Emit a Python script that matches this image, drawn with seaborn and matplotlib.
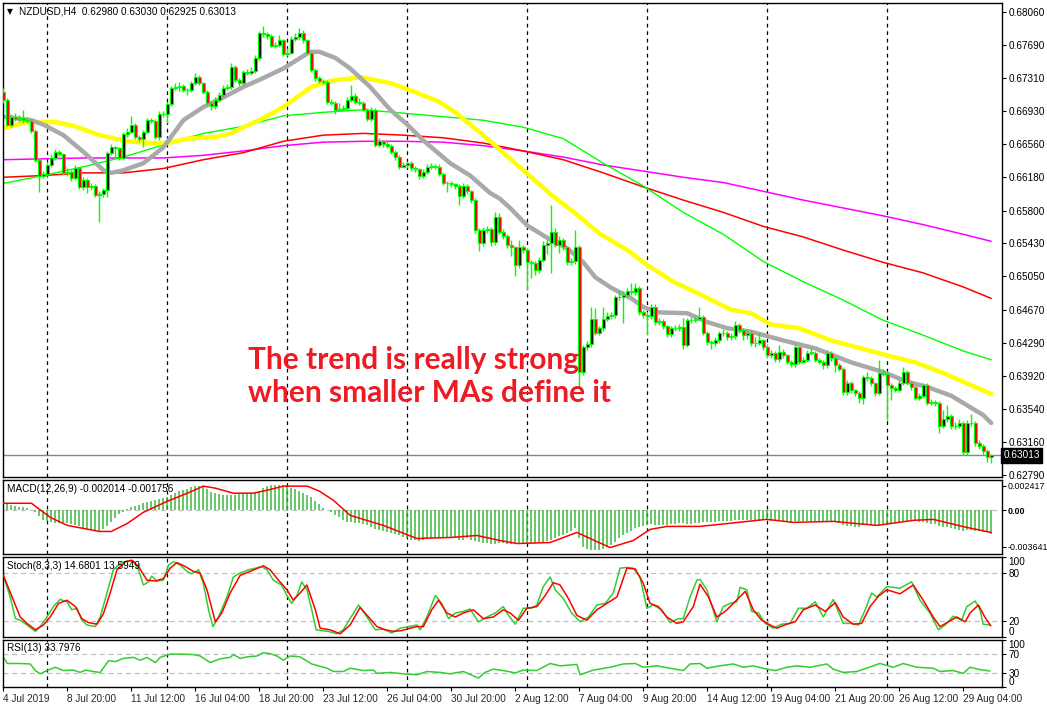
import numpy as np
import matplotlib
matplotlib.use('Agg')
import matplotlib.pyplot as plt
import seaborn as sns

# NZDUSD H4, 4 Jul - 30 Aug 2019
first_open = 0.6715
close = [
    0.6706, 0.6678, 0.6687, 0.6684, 0.6685, 0.6683, 0.6682, 0.6671, 0.6638, 0.6619,
    0.6622, 0.6632, 0.6640, 0.6647, 0.6644, 0.6623, 0.6624, 0.6617, 0.6628, 0.6607,
    0.6615, 0.6607, 0.6608, 0.6598, 0.6599, 0.6603, 0.6646, 0.6652, 0.6651, 0.6640,
    0.6667, 0.6670, 0.6678, 0.6664, 0.6662, 0.6670, 0.6683, 0.6682, 0.6664, 0.6690,
    0.6690, 0.6701, 0.6720, 0.6721, 0.6722, 0.6717, 0.6717, 0.6725, 0.6732, 0.6725,
    0.6715, 0.6703, 0.6699, 0.6706, 0.6712, 0.6720, 0.6721, 0.6744, 0.6729, 0.6725,
    0.6738, 0.6737, 0.6739, 0.6754, 0.6782, 0.6781, 0.6779, 0.6768, 0.6769, 0.6774,
    0.6758, 0.6760, 0.6776, 0.6778, 0.6782, 0.6774, 0.6760, 0.6740, 0.6731, 0.6728,
    0.6727, 0.6704, 0.6703, 0.6695, 0.6696, 0.6697, 0.6706, 0.6711, 0.6704, 0.6703,
    0.6695, 0.6684, 0.6695, 0.6655, 0.6659, 0.6656, 0.6654, 0.6647, 0.6641, 0.6630,
    0.6632, 0.6634, 0.6628, 0.6627, 0.6619, 0.6624, 0.6630, 0.6630, 0.6630, 0.6622,
    0.6611, 0.6611, 0.6610, 0.6608, 0.6597, 0.6608, 0.6602, 0.6592, 0.6558, 0.6543,
    0.6558, 0.6559, 0.6544, 0.6573, 0.6556, 0.6551, 0.6541, 0.6538, 0.6518, 0.6538,
    0.6535, 0.6521, 0.6520, 0.6512, 0.6524, 0.6541, 0.6543, 0.6556, 0.6541, 0.6546,
    0.6538, 0.6521, 0.6522, 0.6538, 0.6396, 0.6424, 0.6428, 0.6457, 0.6441, 0.6446,
    0.6457, 0.6460, 0.6461, 0.6481, 0.6481, 0.6484, 0.6488, 0.6487, 0.6492, 0.6464,
    0.6461, 0.6460, 0.6470, 0.6453, 0.6454, 0.6448, 0.6439, 0.6446, 0.6446, 0.6447,
    0.6427, 0.6455, 0.6455, 0.6457, 0.6459, 0.6441, 0.6430, 0.6429, 0.6432, 0.6440,
    0.6441, 0.6436, 0.6437, 0.6450, 0.6444, 0.6438, 0.6441, 0.6429, 0.6429, 0.6432,
    0.6424, 0.6415, 0.6418, 0.6411, 0.6419, 0.6415, 0.6408, 0.6405, 0.6424, 0.6408,
    0.6410, 0.6418, 0.6418, 0.6410, 0.6408, 0.6404, 0.6418, 0.6412, 0.6404, 0.6400,
    0.6373, 0.6384, 0.6375, 0.6372, 0.6366, 0.6390, 0.6389, 0.6383, 0.6372, 0.6395,
    0.6394, 0.6381, 0.6378, 0.6376, 0.6384, 0.6396, 0.6384, 0.6379, 0.6367, 0.6369,
    0.6381, 0.6361, 0.6362, 0.6361, 0.6335, 0.6342, 0.6346, 0.6334, 0.6335, 0.6338,
    0.6305, 0.6338, 0.6338, 0.6315, 0.6312, 0.6306, 0.6299, 0.6301]
high = [
    0.6720, 0.6708, 0.6690, 0.6691, 0.6689, 0.6695, 0.6687, 0.6684, 0.6673, 0.6640,
    0.6625, 0.6635, 0.6644, 0.6650, 0.6649, 0.6646, 0.6628, 0.6626, 0.6632, 0.6630,
    0.6618, 0.6617, 0.6611, 0.6610, 0.6602, 0.6606, 0.6648, 0.6656, 0.6654, 0.6653,
    0.6670, 0.6674, 0.6688, 0.6680, 0.6666, 0.6672, 0.6686, 0.6686, 0.6684, 0.6693,
    0.6694, 0.6704, 0.6722, 0.6725, 0.6727, 0.6724, 0.6720, 0.6728, 0.6737, 0.6735,
    0.6727, 0.6717, 0.6705, 0.6709, 0.6715, 0.6723, 0.6724, 0.6748, 0.6746, 0.6731,
    0.6740, 0.6741, 0.6744, 0.6757, 0.6785, 0.6790, 0.6784, 0.6781, 0.6772, 0.6780,
    0.6776, 0.6765, 0.6779, 0.6782, 0.6788, 0.6786, 0.6776, 0.6762, 0.6742, 0.6733,
    0.6730, 0.6729, 0.6707, 0.6705, 0.6703, 0.6700, 0.6709, 0.6723, 0.6714, 0.6708,
    0.6705, 0.6697, 0.6698, 0.6697, 0.6663, 0.6661, 0.6659, 0.6656, 0.6649, 0.6643,
    0.6635, 0.6637, 0.6636, 0.6631, 0.6629, 0.6627, 0.6633, 0.6634, 0.6633, 0.6633,
    0.6624, 0.6614, 0.6614, 0.6612, 0.6610, 0.6611, 0.6610, 0.6604, 0.6594, 0.6560,
    0.6561, 0.6562, 0.6561, 0.6578, 0.6577, 0.6559, 0.6553, 0.6547, 0.6540, 0.6547,
    0.6541, 0.6537, 0.6524, 0.6523, 0.6527, 0.6545, 0.6548, 0.6586, 0.6560, 0.6551,
    0.6549, 0.6540, 0.6526, 0.6558, 0.6541, 0.6427, 0.6431, 0.6470, 0.6469, 0.6449,
    0.6470, 0.6464, 0.6465, 0.6484, 0.6489, 0.6488, 0.6492, 0.6497, 0.6497, 0.6494,
    0.6467, 0.6464, 0.6474, 0.6473, 0.6458, 0.6456, 0.6450, 0.6449, 0.6450, 0.6451,
    0.6458, 0.6458, 0.6459, 0.6461, 0.6470, 0.6461, 0.6443, 0.6433, 0.6436, 0.6443,
    0.6445, 0.6443, 0.6441, 0.6454, 0.6452, 0.6446, 0.6445, 0.6444, 0.6436, 0.6440,
    0.6434, 0.6428, 0.6421, 0.6420, 0.6427, 0.6422, 0.6417, 0.6410, 0.6428, 0.6426,
    0.6413, 0.6421, 0.6424, 0.6420, 0.6412, 0.6410, 0.6421, 0.6420, 0.6414, 0.6406,
    0.6402, 0.6387, 0.6386, 0.6377, 0.6374, 0.6393, 0.6396, 0.6391, 0.6385, 0.6410,
    0.6399, 0.6396, 0.6383, 0.6380, 0.6387, 0.6402, 0.6398, 0.6386, 0.6381, 0.6372,
    0.6384, 0.6383, 0.6365, 0.6364, 0.6363, 0.6353, 0.6358, 0.6348, 0.6339, 0.6342,
    0.6340, 0.6341, 0.6348, 0.6340, 0.6318, 0.6314, 0.6308, 0.6303]
low = [
    0.6703, 0.6676, 0.6675, 0.6682, 0.6681, 0.6680, 0.6680, 0.6669, 0.6635, 0.6601,
    0.6617, 0.6620, 0.6630, 0.6638, 0.6642, 0.6621, 0.6620, 0.6614, 0.6615, 0.6605,
    0.6604, 0.6600, 0.6603, 0.6596, 0.6567, 0.6595, 0.6596, 0.6643, 0.6640, 0.6638,
    0.6638, 0.6664, 0.6668, 0.6662, 0.6658, 0.6652, 0.6668, 0.6680, 0.6662, 0.6661,
    0.6687, 0.6680, 0.6699, 0.6717, 0.6716, 0.6715, 0.6712, 0.6715, 0.6723, 0.6723,
    0.6713, 0.6700, 0.6695, 0.6696, 0.6704, 0.6710, 0.6717, 0.6719, 0.6727, 0.6722,
    0.6723, 0.6734, 0.6735, 0.6737, 0.6752, 0.6778, 0.6776, 0.6766, 0.6765, 0.6767,
    0.6756, 0.6756, 0.6758, 0.6773, 0.6775, 0.6771, 0.6758, 0.6738, 0.6728, 0.6725,
    0.6724, 0.6702, 0.6700, 0.6690, 0.6693, 0.6693, 0.6694, 0.6704, 0.6702, 0.6700,
    0.6693, 0.6682, 0.6682, 0.6652, 0.6652, 0.6653, 0.6651, 0.6644, 0.6638, 0.6627,
    0.6628, 0.6629, 0.6625, 0.6624, 0.6616, 0.6617, 0.6622, 0.6627, 0.6627, 0.6620,
    0.6609, 0.6601, 0.6607, 0.6605, 0.6586, 0.6594, 0.6599, 0.6589, 0.6555, 0.6534,
    0.6540, 0.6555, 0.6540, 0.6541, 0.6553, 0.6548, 0.6537, 0.6528, 0.6505, 0.6515,
    0.6532, 0.6490, 0.6503, 0.6507, 0.6509, 0.6521, 0.6530, 0.6509, 0.6538, 0.6532,
    0.6535, 0.6518, 0.6518, 0.6519, 0.6378, 0.6393, 0.6421, 0.6425, 0.6438, 0.6438,
    0.6443, 0.6454, 0.6457, 0.6458, 0.6478, 0.6452, 0.6481, 0.6484, 0.6484, 0.6461,
    0.6458, 0.6438, 0.6457, 0.6450, 0.6450, 0.6445, 0.6436, 0.6436, 0.6443, 0.6443,
    0.6422, 0.6424, 0.6452, 0.6453, 0.6455, 0.6438, 0.6427, 0.6422, 0.6426, 0.6429,
    0.6437, 0.6433, 0.6432, 0.6434, 0.6441, 0.6433, 0.6434, 0.6426, 0.6425, 0.6427,
    0.6421, 0.6412, 0.6412, 0.6408, 0.6408, 0.6412, 0.6405, 0.6402, 0.6402, 0.6405,
    0.6406, 0.6407, 0.6415, 0.6407, 0.6405, 0.6400, 0.6401, 0.6409, 0.6396, 0.6397,
    0.6370, 0.6370, 0.6372, 0.6369, 0.6361, 0.6360, 0.6386, 0.6380, 0.6369, 0.6370,
    0.6391, 0.6341, 0.6364, 0.6373, 0.6373, 0.6381, 0.6381, 0.6376, 0.6364, 0.6364,
    0.6366, 0.6358, 0.6358, 0.6357, 0.6326, 0.6332, 0.6339, 0.6331, 0.6331, 0.6332,
    0.6302, 0.6302, 0.6335, 0.6312, 0.6308, 0.6302, 0.6293, 0.6292]

# fast moving averages: (bar, price)
ma_gray = [
    (0, 0.6687), (7, 0.6683), (10, 0.6678), (15, 0.6666), (20, 0.6647), (25, 0.6626),
    (27, 0.6623), (30, 0.6626), (35, 0.6634), (40, 0.6652), (45, 0.6683), (50, 0.6698),
    (55, 0.6709), (60, 0.6721), (64, 0.6729), (70, 0.6742), (76.7, 0.6761), (79, 0.6761),
    (83, 0.6754), (86.7, 0.6742), (91.7, 0.6721), (96.7, 0.6695), (101, 0.6678),
    (105, 0.6660), (111.7, 0.6634), (116.7, 0.6620), (121.7, 0.6600), (124, 0.6594),
    (126.7, 0.6583), (131, 0.6563), (136, 0.6549), (141, 0.6537), (145, 0.6521),
    (148, 0.6504), (152, 0.6492), (157, 0.6480), (160, 0.6470), (164, 0.6464),
    (171, 0.6463), (176, 0.6453), (181, 0.6446), (187, 0.6442), (195, 0.6432),
    (203, 0.6423), (212, 0.6407), (220, 0.6396), (226, 0.6385), (231, 0.6379),
    (237, 0.6369), (241, 0.6358), (245, 0.6347), (247, 0.6338)]
ma_yellow = [
    (0, 0.6674), (6, 0.6681), (13, 0.6681), (18, 0.6676), (24, 0.6666), (31, 0.6659),
    (37, 0.6657), (41, 0.6657), (46, 0.6662), (53, 0.6664), (57, 0.6668), (60, 0.6675),
    (64, 0.6683), (70, 0.6698), (77, 0.6721), (82, 0.6728), (89.5, 0.6732), (97, 0.6725),
    (103, 0.6715), (109, 0.6704), (113, 0.6692), (120, 0.6666), (127, 0.6638),
    (129, 0.6630), (137, 0.6598), (143, 0.6577), (149, 0.6554), (156, 0.6535),
    (161, 0.6518), (167.5, 0.6499), (174, 0.6485), (182, 0.6467), (187, 0.6463),
    (192, 0.6450), (199, 0.6446), (207, 0.6432), (216, 0.6421), (221, 0.6415),
    (228, 0.6407), (235, 0.6395), (241, 0.6383), (247, 0.6371)]

# slow moving averages, read every 10 bars
ma_bars = [0, 10, 20, 30, 40, 50, 60, 70, 80, 90, 100, 110, 120, 130, 140, 150,
           160, 170, 180, 190, 200, 210, 220, 230, 240, 247]
ma_green = [0.6611, 0.6620, 0.6630, 0.6641, 0.6655, 0.6668, 0.6676, 0.6688, 0.6692,
            0.6695, 0.6691, 0.6687, 0.6683, 0.6675, 0.6662, 0.6634, 0.6608, 0.6578,
            0.6553, 0.6522, 0.6499, 0.6478, 0.6455, 0.6438, 0.6420, 0.6410]
ma_red = [0.6618, 0.6620, 0.6623, 0.6623, 0.6628, 0.6638, 0.6646, 0.6659, 0.6666,
          0.6668, 0.6666, 0.6663, 0.6657, 0.6648, 0.6638, 0.6623, 0.6607, 0.6592,
          0.6578, 0.6562, 0.6550, 0.6535, 0.6521, 0.6509, 0.6493, 0.6480]
ma_magenta = [0.6638, 0.6639, 0.6640, 0.6640, 0.6640, 0.6643, 0.6648, 0.6654, 0.6658,
              0.6659, 0.6659, 0.6658, 0.6654, 0.6648, 0.6641, 0.6632, 0.6625, 0.6618,
              0.6612, 0.6602, 0.6592, 0.6583, 0.6574, 0.6564, 0.6553, 0.6545]

# MACD histogram, one per bar, in units of 0.0001
macd_hist = [
    7, 7, 5, 4, 3, 3, 2, 0, -2, -6, -10, -11, -12, -13, -13, -14, -13, -14, -15, -16,
    -18, -19, -20, -21, -22, -19, -16, -12, -8, -4, -2, 1, 3, 4, 5, 7, 8, 9, 10, 11,
    12, 13, 15, 17, 19, 20, 21, 23, 24, 24, 24, 21, 18, 17, 16, 15, 15, 15, 15, 16,
    17, 16, 16, 17, 19, 22, 24, 25, 25, 25, 25, 24, 22, 21, 19, 17, 15, 13, 9, 6,
    2, 0, -2, -5, -7, -10, -12, -12, -13, -13, -14, -15, -17, -19, -20, -21, -22, -23, -24, -25,
    -27, -28, -29, -29, -30, -29, -28, -28, -28, -28, -28, -28, -28, -28, -29, -29, -28, -29, -30, -31,
    -32, -32, -33, -33, -32, -32, -33, -33, -33, -33, -33, -33, -32, -32, -31, -31, -30, -29, -28, -26,
    -25, -23, -21, -18, -28, -36, -38, -39, -39, -39, -38, -36, -34, -31, -28, -25, -23, -21, -18, -17,
    -16, -15, -14, -15, -15, -15, -15, -14, -14, -13, -13, -14, -14, -13, -13, -12, -12, -12, -12, -11,
    -11, -11, -11, -10, -10, -10, -10, -10, -10, -10, -10, -10, -11, -11, -11, -11, -12, -12, -11, -11,
    -11, -11, -11, -11, -11, -11, -11, -11, -12, -13, -15, -16, -16, -17, -17, -15, -15, -15, -16, -15,
    -14, -14, -13, -13, -12, -11, -11, -11, -11, -12, -12, -13, -14, -14, -16, -17, -17, -18, -19, -20,
    -21, -20, -20, -21, -21, -22, -22, -24]
# MACD signal line (bar, value in 0.0001)
macd_signal = [
    (0, 7), (7, 7), (11.7, -7), (16, -15), (20, -18), (24, -21), (27, -21), (31, -13),
    (35, -2), (41, 9), (46, 17), (50, 24), (53, 22), (57.5, 17), (62.5, 17), (66, 20),
    (70, 24), (76, 24), (79, 19), (82.5, 10), (86.7, -5), (95, -15), (103.4, -28),
    (111.7, -27), (118.4, -25), (124.2, -30), (128.4, -33), (136.7, -32), (143.4, -22),
    (151.7, -37), (157.5, -30), (161.7, -19), (165.9, -16), (174.2, -16), (190.9, -9),
    (197.5, -12), (207.5, -11), (218.4, -15), (227.5, -10), (232.5, -9), (240.9, -17),
    (247, -22)]

# Stochastic %K (green) and %D (red): (bar, value)
stoch_k = [
    (0, 77), (1.7, 50), (3, 23), (4.2, 21), (5.9, 15), (8, 7), (9.2, 13), (10.9, 25),
    (12.5, 38), (14.2, 47), (15.9, 44), (17.1, 34), (18.4, 36), (19.6, 21), (20.9, 15),
    (23, 13), (24.2, 25), (25.9, 55), (27.5, 84), (29.2, 92), (30.9, 95), (32.5, 95),
    (33.8, 84), (35, 65), (36.3, 69), (37.1, 76), (38.4, 70), (40, 71), (41.3, 90),
    (42.5, 94), (44.2, 90), (45.9, 82), (47.1, 79), (48.8, 84), (50, 67), (51.3, 34),
    (52.4, 13), (53.8, 25), (55.9, 50), (57.5, 75), (59.2, 80), (61.3, 84), (63, 86),
    (64.6, 88), (65.9, 84), (67.5, 71), (69.6, 65), (70.9, 52), (72.1, 42), (73.4, 52),
    (74.6, 69), (75.9, 59), (77.1, 34), (78.2, 9), (79.6, 8), (81.3, 7), (83.4, 4),
    (85, 9), (86.7, 23), (88.8, 40), (90.9, 25), (93, 9), (95, 10), (97.1, 5), (99.2, 11),
    (101.3, 13), (103.4, 15), (104.2, 9), (105.9, 25), (108, 52), (109.6, 42), (111.3, 23),
    (113, 30), (115, 32), (116.7, 35), (118.8, 19), (120.9, 25), (123, 30), (125, 38),
    (126.3, 27), (128, 16), (130, 36), (132.1, 36), (133.4, 40), (135, 63), (136.7, 75),
    (138, 59), (140, 48), (142.1, 30), (144.2, 19), (146.3, 25), (148.4, 40), (150.5, 42),
    (152.5, 55), (154.2, 86), (155.9, 87), (157.5, 86), (159.2, 75), (160.9, 36),
    (162.5, 40), (164.6, 34), (166.7, 18), (168.8, 23), (170, 23), (171.7, 50), (173.4, 71),
    (174.2, 72), (175.9, 59), (178.4, 19), (180, 38), (181.7, 42), (183.4, 44), (184.2, 62),
    (185.9, 59), (187.1, 32), (188.8, 30), (190.5, 17), (192.5, 11), (194.6, 16),
    (196.7, 17), (198.8, 36), (200.9, 36), (203, 44), (205, 25), (207.5, 47), (210, 17),
    (212.1, 17), (213.8, 15), (215.5, 34), (217.1, 55), (218.4, 50), (220.9, 63),
    (224.2, 61), (227.1, 69), (229.2, 46), (231.7, 30), (233.8, 9), (235.5, 15),
    (237.5, 26), (239.6, 21), (240.9, 38), (243, 45), (244.2, 34), (245, 16), (246.7, 15)]
stoch_d = [
    (0, 77), (2.5, 46), (4.2, 25), (5.9, 17), (8, 9), (10, 15), (11.7, 25), (13.8, 42),
    (15.9, 46), (18, 38), (19.6, 23), (21.3, 18), (23.4, 16), (25, 29), (26.7, 55),
    (28.4, 84), (30.5, 94), (32.1, 96), (33.8, 88), (35.9, 71), (38, 70), (40, 73),
    (41.7, 86), (43.4, 93), (45.5, 88), (47.5, 82), (49.2, 80), (50.9, 59), (53, 19),
    (54.6, 30), (56.7, 55), (59.2, 77), (61.7, 82), (65, 89), (66.7, 84), (68.8, 71),
    (70.9, 59), (72.5, 46), (74.2, 55), (75.9, 65), (78, 34), (79.2, 11), (81.7, 9),
    (84.2, 4), (86.7, 15), (89.2, 37), (91.3, 25), (93.4, 13), (95.5, 9), (97.5, 7),
    (99.6, 8), (101.7, 11), (103.4, 13), (105, 13), (107.1, 34), (108.8, 46), (110.9, 30),
    (113, 25), (115, 30), (117.5, 34), (120, 23), (122.5, 25), (125, 34), (126.7, 30),
    (128.8, 21), (130.9, 36), (133.4, 38), (135.5, 52), (137.5, 68), (139.2, 65),
    (141.3, 48), (143.4, 27), (145.9, 21), (148.4, 34), (150.9, 42), (153.4, 50),
    (155.9, 86), (158, 85), (160, 67), (161.7, 42), (163.8, 38), (165.9, 25), (168.4, 17),
    (170, 19), (172.5, 38), (174.2, 66), (176.3, 50), (178.4, 25), (180.5, 32),
    (182.5, 42), (185.5, 57), (187.5, 34), (189.6, 21), (191.7, 15), (193.4, 11),
    (195.9, 16), (198, 19), (200, 34), (203, 40), (205.5, 32), (208, 43), (210, 25),
    (212.5, 16), (214.6, 17), (216.7, 38), (218.8, 51), (220.9, 59), (224.2, 54),
    (227.5, 65), (230, 46), (232.5, 25), (234.2, 13), (236.3, 19), (238.4, 25),
    (240.5, 19), (241.7, 30), (243.8, 40), (245.4, 25), (246.9, 14)]

# RSI(13): (bar, value)
rsi = [
    (0, 63), (1, 50), (4.2, 50), (6.7, 49), (8, 35), (9.2, 28), (10.9, 35), (13, 42),
    (15, 35), (17.5, 36), (19.2, 31), (20.5, 36), (22.5, 33), (24.2, 31), (26.3, 56),
    (28, 54), (30, 61), (32.5, 63), (34.2, 57), (35.9, 63), (38, 52), (39.2, 63),
    (41.7, 70), (44.2, 70), (47.5, 69), (49.2, 66), (51.7, 52), (54.2, 60), (56.7, 63),
    (57.5, 69), (59.2, 61), (60.9, 64), (63.4, 66), (65, 73), (66.7, 71), (68.4, 66),
    (70, 57), (71.7, 66), (74.2, 64), (77.1, 49), (80.9, 40), (82.5, 33), (85, 33),
    (86.7, 40), (90, 35), (92.5, 36), (93.4, 29), (96.7, 31), (100, 28), (103.4, 26),
    (105.9, 33), (109.2, 31), (111.7, 28), (115, 33), (118.8, 19), (120.4, 31),
    (122.5, 38), (125, 35), (128, 30), (130, 36), (133.4, 35), (136.7, 50), (139.2, 45),
    (143.4, 48), (144.2, 26), (147.5, 36), (151.7, 42), (155, 49), (158, 50), (160, 42),
    (163.4, 45), (166.7, 40), (170, 35), (171.7, 49), (174.2, 50), (175.9, 40),
    (179.2, 45), (182.5, 49), (185, 42), (187.5, 45), (190.9, 38), (193, 35), (195.9, 42),
    (198.4, 45), (201.7, 42), (205.9, 49), (207.5, 38), (210, 31), (213.4, 33),
    (217.5, 45), (219.2, 50), (222.5, 42), (225, 50), (228.4, 42), (232.5, 40),
    (234.2, 33), (237.5, 35), (240, 29), (241.7, 42), (244.2, 37), (246.7, 34)]

price_ticks = [0.68060, 0.67690, 0.67310, 0.66930, 0.66560, 0.66180, 0.65800, 0.65430,
               0.65050, 0.64670, 0.64290, 0.63920, 0.63540, 0.63160, 0.62790]
date_bars = [0, 16, 32, 48, 64, 80, 96, 112, 128, 144, 160, 176, 192, 208, 224, 240]
date_labels = ['4 Jul 2019', '8 Jul 20:00', '11 Jul 12:00', '16 Jul 04:00', '18 Jul 20:00',
               '23 Jul 12:00', '26 Jul 04:00', '30 Jul 20:00', '2 Aug 12:00', '7 Aug 04:00',
               '9 Aug 20:00', '14 Aug 12:00', '19 Aug 04:00', '21 Aug 20:00', '26 Aug 12:00',
               '29 Aug 04:00']

# ---------------------------------------------------------------
sns.set_theme(style='white')
plt.rcParams['font.family'] = ['Liberation Sans', 'DejaVu Sans']

W, H = 1047, 707
fig = plt.figure(figsize=(W / 100, H / 100), dpi=100)
fig.patch.set_facecolor('white')


def panel(top, bottom):
    ax = fig.add_axes([3 / W, 1 - bottom / H, 999 / W, (bottom - top) / H])
    ax.set_facecolor('white')
    ax.set_xlim(-0.1, 249.7)
    for s in ax.spines.values():
        s.set_color('black')
        s.set_linewidth(1.0)
        s.set_visible(True)
    ax.yaxis.tick_right()
    ax.tick_params(axis='y', right=True, left=False, length=3, width=0.8, color='black',
                   labelsize=7.2, pad=1.5, labelcolor='black')
    ax.tick_params(axis='x', bottom=False, labelbottom=False)
    ax.grid(False)
    # dashed vertical grid
    for gx in np.arange(10.9, 249, 30):
        ax.axvline(gx, color='black', lw=0.9, ls=(0, (3, 3)), zorder=0)
    return ax


def pairs(seq):
    xs, ys = zip(*seq)
    return list(xs), list(ys)


ax_p = panel(3, 477)
ax_m = panel(480, 554)
ax_s = panel(557, 637)
ax_r = panel(640, 687)

tf = dict(fontsize=7.2, color='black', va='top', ha='left')

# ---- price panel ----
c = np.array(close)
hi = np.array(high)
lo = np.array(low)
o = np.r_[first_open, c[:-1]]
bars = np.arange(len(c))
up = c >= o

ax_p.set_ylim(0.62764, 0.68166)
ax_p.set_yticks(price_ticks)
ax_p.set_yticklabels([f'{t:.5f}' for t in price_ticks])

ax_p.axhline(c[-1], color='#778899', lw=1.0, zorder=1)

for vals, col, lw in [(ma_magenta, '#ff00ff', 1.1), (ma_red, '#ff0000', 1.1),
                      (ma_green, '#00ff00', 1.0)]:
    sns.lineplot(x=ma_bars, y=vals, ax=ax_p, color=col, lw=lw, estimator=None, zorder=2)
for seq, col in [(ma_yellow, '#ffff00'), (ma_gray, '#a9a9a9')]:
    xs, ys = pairs(seq)
    sns.lineplot(x=xs, y=ys, ax=ax_p, color=col, lw=3.2, estimator=None, zorder=2)

ax_p.vlines(bars, lo, hi, color='#00ff00', lw=1.0, zorder=3)
body = np.where(np.abs(c - o) < 0.00003, 0.00003, c - o)
ax_p.bar(bars[up], body[up], bottom=o[up], width=0.68, color='black',
         edgecolor='#00ff00', linewidth=0.8, zorder=4)
ax_p.bar(bars[~up], body[~up], bottom=o[~up], width=0.68, color='#ff0000',
         edgecolor='#00ff00', linewidth=0.8, zorder=4)

ax_p.text(0.004, 0.991, '\u25bc', transform=ax_p.transAxes, fontsize=5.5, color='black',
          va='top', ha='left', family=['DejaVu Sans'])
ax_p.text(0.016, 0.993, 'NZDUSD,H4  0.62980 0.63030 0.62925 0.63013',
          transform=ax_p.transAxes, **tf)

ax_p.text(0.2455, 0.212, 'The trend is really strong\nwhen smaller MAs define it',
          transform=ax_p.transAxes, fontsize=21.5, fontweight='bold', color='#ed1c24',
          family=['Lato', 'DejaVu Sans'], va='center', ha='left', linespacing=1.2, zorder=6)

# current price box
ax_p.text(1.0015, c[-1], '0.63013', transform=ax_p.get_yaxis_transform(),
          fontsize=7.2, color='white', va='center', ha='left', zorder=7, clip_on=False,
          bbox=dict(boxstyle='square,pad=0.22', fc='black', ec='black'))

# ---- MACD ----
hist = np.array(macd_hist) * 1e-4
ax_m.set_ylim(-0.00434, 0.00301)
ax_m.axhline(0, color='#c0c0c0', lw=0.9, ls=(0, (4, 3)), zorder=1)
ax_m.vlines(bars, 0, hist, color='#3cb83c', lw=1.1, zorder=2)
sx, sy = pairs(macd_signal)
sns.lineplot(x=sx, y=np.array(sy) * 1e-4, ax=ax_m, color='#ff0000', lw=1.1,
             estimator=None, zorder=3)
ax_m.set_yticks([0.002417, 0.0, -0.003641])
ax_m.set_yticklabels(['0.002417', '0.00', '-0.003641'])
ax_m.tick_params(axis='y', pad=1, labelsize=6.4)
ax_m.get_yticklabels()[1].set_fontweight('bold')
ax_m.text(0.004, 0.95, 'MACD(12,26,9) -0.002014 -0.001756', transform=ax_m.transAxes, **tf)

# ---- Stochastic ----
ax_s.set_ylim(0, 100)
for lvl in (80, 20):
    ax_s.axhline(lvl, color='#c0c0c0', lw=0.9, ls=(0, (4, 3)), zorder=1)
kx, ky = pairs(stoch_k)
dx, dy = pairs(stoch_d)
sns.lineplot(x=kx, y=ky, ax=ax_s, color='#32cd32', lw=1.1, estimator=None, zorder=2)
sns.lineplot(x=dx, y=dy, ax=ax_s, color='#ff0000', lw=1.1, estimator=None, zorder=3)
ax_s.set_yticks([100, 80, 20, 0])
ax_s.set_yticklabels(['100', '80', '20', '0'])
sl = ax_s.get_yticklabels()
sl[0].set_va('top')
sl[3].set_va('bottom')
ax_s.text(0.004, 0.95, 'Stoch(8,3,3) 14.6801 13.5949', transform=ax_s.transAxes, **tf)

# ---- RSI ----
ax_r.set_ylim(0, 100)
for lvl in (70, 30):
    ax_r.axhline(lvl, color='#c0c0c0', lw=0.9, ls=(0, (4, 3)), zorder=1)
rx, ry = pairs(rsi)
sns.lineplot(x=rx, y=ry, ax=ax_r, color='#32cd32', lw=1.1, estimator=None, zorder=2)
ax_r.set_yticks([100, 70, 30, 0])
ax_r.set_yticklabels(['100', '70', '30', '0'])
rl = ax_r.get_yticklabels()
rl[0].set_va('top')
rl[3].set_va('bottom')
ax_r.text(0.004, 0.93, 'RSI(13) 33.7976', transform=ax_r.transAxes, **tf)

ax_r.set_xticks(date_bars)
ax_r.set_xticklabels(date_labels)
ax_r.tick_params(axis='x', bottom=True, labelbottom=True, length=3, width=0.8,
                 color='black', labelsize=7.2, pad=2)
for lbl in ax_r.get_xticklabels():
    lbl.set_ha('left')

for ax in (ax_p, ax_m, ax_s, ax_r):
    ax.set_xlabel('')
    ax.set_ylabel('')
    if ax.get_legend():
        ax.get_legend().remove()

fig.savefig('out.png', dpi=100, facecolor='white')
